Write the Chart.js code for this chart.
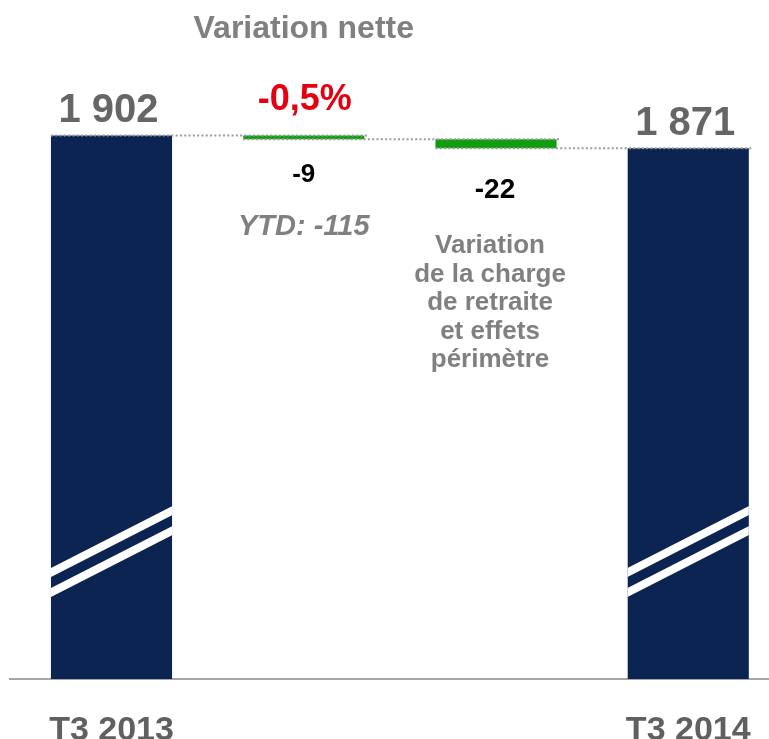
<!DOCTYPE html>
<html><head><meta charset="utf-8">
<script src="https://cdn.jsdelivr.net/npm/chart.js@4/dist/chart.umd.min.js"></script>
<style>html,body{margin:0;padding:0;background:#fff;}</style>
</head><body>
<canvas id="c" width="769" height="739"></canvas>
<script>
// ---- data ----
const categories = ['T3 2013', 'Variation nette', 'Variation de la charge de retraite et effets périmètre', 'T3 2014'];
const axisLabels = ['T3 2013', '', '', 'T3 2014'];
const startValue = 1902;
const deltas = [-9, -22];
const endValue = 1871;
const ytdLabel = 'YTD: -115';
const netTitle = 'Variation nette';
const noteLines = ['Variation', 'de la charge', 'de retraite', 'et effets', 'périmètre'];

// ---- build waterfall ----
const levels = [startValue];
deltas.forEach(d => levels.push(levels[levels.length - 1] + d));
const points = [{x: 0, y: startValue}];
deltas.forEach((d, i) => {
  const a = levels[i], b = levels[i + 1];
  points.push({x: i + 1, y: [Math.min(a, b), Math.max(a, b)]});
});
points.push({x: 3, y: endValue});
levels.push(endValue);

const NAVY = '#0b2452', GREEN = '#0e9e0e';
const colors = points.map((p, i) => (i === 0 || i === points.length - 1) ? NAVY : GREEN);
const fmt = v => String(v).replace(/\B(?=(\d{3})+(?!\d))/g, ' ');
const pct = (deltas[0] / startValue * 100).toFixed(1).replace('.', ',') + '%';
const FONT = "'Liberation Sans', Arial, sans-serif";
const BREAK_AT = 909;

const deco = {
  id: 'deco',
  afterDatasetsDraw(chart) {
    const ctx = chart.ctx, ys = chart.scales.y, ca = chart.chartArea;
    const bars = chart.getDatasetMeta(0).data;
    // axis break marks on total bars
    [0, bars.length - 1].forEach(i => {
      const b = bars[i], w = b.width, l = b.x - w / 2, r = b.x + w / 2;
      ctx.save();
      ctx.beginPath(); ctx.rect(l, ca.top, w, ca.bottom - ca.top); ctx.clip();
      ctx.strokeStyle = '#fff'; ctx.lineWidth = 8;
      const yc = ys.getPixelForValue(BREAK_AT), slope = 0.51;
      [-10, 10].forEach(off => {
        ctx.beginPath();
        ctx.moveTo(l - 5, yc + off + (w / 2 + 5) * slope);
        ctx.lineTo(r + 5, yc + off - (w / 2 + 5) * slope);
        ctx.stroke();
      });
      ctx.restore();
    });
    // dotted connectors
    ctx.save();
    ctx.strokeStyle = '#9a9a9a'; ctx.lineWidth = 2; ctx.setLineDash([2, 2.3]);
    for (let i = 0; i < bars.length - 1; i++) {
      const y = ys.getPixelForValue(levels[i]);
      ctx.beginPath();
      ctx.moveTo(bars[i].x - bars[i].width / 2, y);
      ctx.lineTo(bars[i + 1].x + bars[i + 1].width / 2 + 4, y);
      ctx.stroke();
    }
    ctx.restore();
    // texts
    ctx.save();
    ctx.textAlign = 'center'; ctx.textBaseline = 'alphabetic';
    const t = (txt, x, y, font, color) => { ctx.font = font; ctx.fillStyle = color; ctx.fillText(txt, x, y); };
    [0, bars.length - 1].forEach(i => {
      const v = i === 0 ? startValue : endValue;
      t(fmt(v), bars[i].x - 3, ys.getPixelForValue(v) - 13, 'bold 40px ' + FONT, '#666666');
    });
    const b1 = bars[1], b2 = bars[2];
    t(netTitle, b1.x, 38, 'bold 32px ' + FONT, '#808080');
    t(pct, b1.x + 1, 110, 'bold 36px ' + FONT, '#e3000f');
    t(String(deltas[0]), b1.x, 182, 'bold 26px ' + FONT, '#000');
    t(ytdLabel, b1.x, 235, 'italic bold 29px ' + FONT, '#808080');
    t(String(deltas[1]), b2.x - 1, 198, 'bold 28px ' + FONT, '#000');
    noteLines.forEach((ln, k) => t(ln, b2.x - 6, 253 + 28.5 * k, 'bold 26px ' + FONT, '#808080'));
    ctx.restore();
  }
};

new Chart(document.getElementById('c'), {
  type: 'bar',
  data: {
    labels: categories,
    datasets: [{
      data: points,
      backgroundColor: colors,
      borderWidth: 0,
      barPercentage: 0.63,
      categoryPercentage: 1
    }]
  },
  options: {
    responsive: false,
    animation: false,
    layout: {padding: {left: 10, right: 0, top: 0, bottom: 0}},
    plugins: {legend: {display: false}, tooltip: {enabled: false}},
    scales: {
      x: {
        type: 'linear', min: -0.528, max: 3.42, offset: false,
        grid: {display: false, drawTicks: false, offset: false},
        border: {display: true, color: '#a6a6a6', width: 2},
        afterBuildTicks: s => { s.ticks = axisLabels.map((l, i) => ({value: i})).filter(tk => axisLabels[tk.value]); },
        ticks: {
          callback: v => axisLabels[v] || '',
          font: {family: FONT, weight: 'bold', size: 34, lineHeight: 1},
          color: '#606060', padding: 35, maxRotation: 0, autoSkip: false
        },
        afterFit: s => { s.height = 60; s.paddingLeft = 0; s.paddingRight = 0; }
      },
      y: {display: false, min: 605, max: 2225}
    }
  },
  plugins: [deco]
});
</script>
</body></html>
